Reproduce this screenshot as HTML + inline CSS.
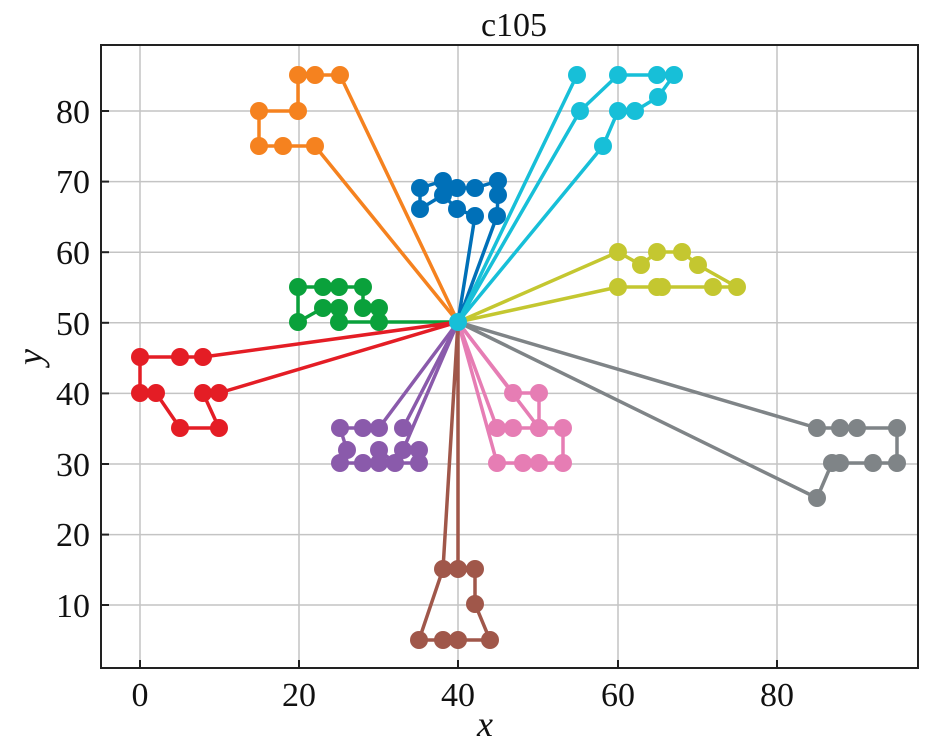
<!DOCTYPE html>
<html><head><meta charset="utf-8"><style>
html,body{margin:0;padding:0;background:#fff;}
svg{display:block;font-family:"Liberation Serif",serif;}
</style></head><body>
<svg id="s" width="936" height="748" xmlns="http://www.w3.org/2000/svg">
<rect x="0" y="0" width="936" height="748" fill="#fff"/>
<g stroke="#c4c4c4" stroke-width="1.5">
<line x1="140" y1="45" x2="140" y2="668"/><line x1="299" y1="45" x2="299" y2="668"/>
<line x1="458" y1="45" x2="458" y2="668"/><line x1="618" y1="45" x2="618" y2="668"/>
<line x1="777" y1="45" x2="777" y2="668"/>
<line x1="101" y1="605" x2="918" y2="605"/><line x1="101" y1="534.6" x2="918" y2="534.6"/>
<line x1="101" y1="464" x2="918" y2="464"/><line x1="101" y1="393.4" x2="918" y2="393.4"/>
<line x1="101" y1="322.8" x2="918" y2="322.8"/><line x1="101" y1="252.2" x2="918" y2="252.2"/>
<line x1="101" y1="181.6" x2="918" y2="181.6"/><line x1="101" y1="111" x2="918" y2="111"/>
</g>
<g id="data"></g>
<rect x="101" y="45" width="817" height="623" fill="none" stroke="#222" stroke-width="2"/>
<g stroke="#222" stroke-width="2">
<line x1="140" y1="668" x2="140" y2="660"/><line x1="299" y1="668" x2="299" y2="660"/>
<line x1="458" y1="668" x2="458" y2="660"/><line x1="618" y1="668" x2="618" y2="660"/>
<line x1="777" y1="668" x2="777" y2="660"/>
<line x1="101" y1="605" x2="109" y2="605"/><line x1="101" y1="534.6" x2="109" y2="534.6"/>
<line x1="101" y1="464" x2="109" y2="464"/><line x1="101" y1="393.4" x2="109" y2="393.4"/>
<line x1="101" y1="322.8" x2="109" y2="322.8"/><line x1="101" y1="252.2" x2="109" y2="252.2"/>
<line x1="101" y1="181.6" x2="109" y2="181.6"/><line x1="101" y1="111" x2="109" y2="111"/>
</g>
<g font-size="34" fill="#111" text-anchor="middle">
<text x="140" y="706">0</text><text x="299" y="706">20</text><text x="458" y="706">40</text>
<text x="618" y="706">60</text><text x="777" y="706">80</text>
</g>
<g font-size="34" fill="#111" text-anchor="end">
<text x="90" y="617">10</text><text x="90" y="546">20</text><text x="90" y="476">30</text>
<text x="90" y="405">40</text><text x="90" y="335">50</text><text x="90" y="264">60</text>
<text x="90" y="193">70</text><text x="90" y="123">80</text>
</g>
<text x="514" y="36" font-size="34" text-anchor="middle" fill="#111">c105</text>
<text x="485" y="736" font-size="36" font-style="italic" text-anchor="middle" fill="#111">x</text>
<text x="0" y="0" font-size="36" font-style="italic" text-anchor="middle" fill="#111" transform="translate(42,357) rotate(-90)">y</text>
</svg>
<script>
var D=[458,322];
var routes=[
["#f5821f",[[340,75],[315,75],[298,75],[298,111],[259,111],[259,146],[283,146],[315,146]]],
["#0070b8",[[497,216],[498,195],[498,181],[475,188],[457,188],[443,181],[420,188],[420,209],[443,195],[457,209],[475,216]]],
["#17bfd8",[[577,75]]],
["#17bfd8",[[580,111],[618,75],[657,75],[674,75],[658,97],[635,111],[618,111],[603,146]]],
["#c4c730",[[618,252],[641,265],[657,252],[682,252],[698,265],[737,287],[713,287],[662,287],[657,287],[618,287]]],
["#0aa13b",[[379,322],[379,308],[363,308],[363,287],[339,287],[323,287],[298,287],[298,322],[323,308],[339,308],[339,322]]],
["#e41d25",[[203,357],[180,357],[140,357],[140,393],[156,393],[180,428],[219,428],[203,393],[219,393]]],
["#8a5aab",[[379,428],[363,428],[340,428],[347,450],[340,463],[363,463],[379,463],[379,450],[395,463],[419,463],[419,450],[403,450]]],
["#8a5aab",[[403,428]]],
["#e67db4",[[513,393],[539,393],[539,428],[513,428],[497,428]]],
["#e67db4",[[497,463],[523,463],[539,463],[563,463],[563,428],[539,428]]],
["#a0574a",[[443,569],[419,640],[443,640],[458,640],[490,640],[475,604],[475,569],[458,569]]],
["#7f8487",[[817,428],[840,428],[857,428],[897,428],[897,463],[873,463],[840,463],[832,463],[817,498]]]
];
var g=document.getElementById("data"),h="";
routes.forEach(function(r){
 var pts=[D].concat(r[1]).concat([D]);
 h+='<polyline fill="none" stroke="'+r[0]+'" stroke-width="3.5" stroke-linejoin="round" points="'+pts.map(function(p){return p.join(",")}).join(" ")+'"/>';
 r[1].forEach(function(p){h+='<circle cx="'+p[0]+'" cy="'+p[1]+'" r="9" fill="'+r[0]+'"/>';});
});
h+='<circle cx="458" cy="322" r="9" fill="#17bfd8"/>';
g.innerHTML=h;
</script>
</body></html>
